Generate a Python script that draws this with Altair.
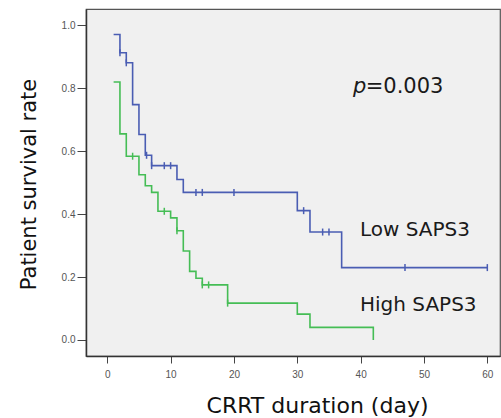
import altair as alt
import pandas as pd

# Kaplan-Meier step curves (time in days, cumulative survival)
low_times = [1, 2, 3, 4, 5, 6, 7, 11, 12, 30, 32, 37, 60]
low_surv = [0.971, 0.913, 0.881, 0.748, 0.653, 0.587, 0.554, 0.510, 0.469, 0.411, 0.343, 0.230, 0.230]
high_times = [1, 2, 3, 5, 6, 7, 8, 10, 11, 12, 13, 14, 15, 19, 30, 32, 42]
high_surv = [0.820, 0.655, 0.584, 0.525, 0.490, 0.469, 0.409, 0.388, 0.347, 0.283, 0.218, 0.196, 0.175, 0.117, 0.082, 0.040, 0.0]

# Censored observations
low_cens_t = [2, 3, 6.2, 7, 9, 10, 14, 15, 20, 31, 34, 35, 47, 60]
low_cens_s = [0.913, 0.881, 0.587, 0.554, 0.554, 0.554, 0.469, 0.469, 0.469, 0.411, 0.343, 0.343, 0.230, 0.230]
high_cens_t = [4, 9, 11, 15, 16, 19]
high_cens_s = [0.584, 0.409, 0.347, 0.175, 0.175, 0.117]

groups = ["Low SAPS3", "High SAPS3"]
colors = ["#4a5db3", "#45bd55"]

# Annotation text
label_text = ["Low SAPS3", "High SAPS3"]
label_x = [39.9, 39.9]
label_y = [0.331, 0.092]
p_x = [38.8, 40.8]
p_y = [0.784, 0.784]
p_text = ["p", "=0.003"]

FONT = "DejaVu Sans"

curves = pd.DataFrame(
    [{"t": t, "s": s, "g": groups[0], "i": i} for i, (t, s) in enumerate(zip(low_times, low_surv))]
    + [{"t": t, "s": s, "g": groups[1], "i": i} for i, (t, s) in enumerate(zip(high_times, high_surv))]
)
cens = pd.DataFrame(
    [{"t": t, "s": s, "g": groups[0]} for t, s in zip(low_cens_t, low_cens_s)]
    + [{"t": t, "s": s, "g": groups[1]} for t, s in zip(high_cens_t, high_cens_s)]
)
labels = pd.DataFrame({"x": label_x, "y": label_y, "txt": label_text})

xs = alt.Scale(domain=[-3.36, 62.0], nice=False, zero=False)
ys = alt.Scale(domain=[-0.051, 1.052], nice=False, zero=False)
cs = alt.Scale(domain=groups, range=colors)

x_axis = alt.Axis(
    values=[0, 10, 20, 30, 40, 50, 60], format="d", grid=False,
    tickSize=7, tickColor="#444", domainColor="#333", domainWidth=1.5,
    labelFont="Liberation Sans", labelFontSize=10, labelColor="#555", labelPadding=6,
    title="CRRT duration (day)", titleFont=FONT, titleFontSize=22,
    titleFontWeight="normal", titleColor="#111", titleX=231, titleY=56,
    titleAlign="center", titleBaseline="alphabetic",
)
y_axis = alt.Axis(
    values=[0, 0.2, 0.4, 0.6, 0.8, 1.0], format=".1f", grid=False,
    tickSize=9, tickColor="#444", domainColor="#333", domainWidth=1.5,
    labelFont="Liberation Sans", labelFontSize=10, labelColor="#555", labelPadding=2,
    title="Patient survival rate", titleFont=FONT, titleFontSize=21,
    titleFontWeight="normal", titleColor="#111", titleX=-51, titleY=175,
    titleAngle=270, titleAlign="center", titleBaseline="alphabetic",
)

lines = alt.Chart(curves).mark_line(interpolate="step-after", strokeWidth=1.6).encode(
    x=alt.X("t:Q", scale=xs, axis=x_axis),
    y=alt.Y("s:Q", scale=ys, axis=y_axis),
    color=alt.Color("g:N", scale=cs, legend=None),
    order="i:Q",
    detail="g:N",
)

ticks = alt.Chart(cens).mark_point(
    shape="M0,-1L0,1", size=49, filled=False, strokeWidth=1.5, opacity=1
).encode(
    x=alt.X("t:Q", scale=xs),
    y=alt.Y("s:Q", scale=ys),
    color=alt.Color("g:N", scale=cs, legend=None),
)

group_labels = alt.Chart(labels).mark_text(
    align="left", baseline="alphabetic", font=FONT, fontSize=20, color="#1a1a1a"
).encode(x=alt.X("x:Q", scale=xs), y=alt.Y("y:Q", scale=ys), text="txt:N")

pval = pd.DataFrame({"x": p_x, "y": p_y, "txt": p_text})
p_italic = alt.Chart(pval.iloc[[0]]).mark_text(
    align="left", baseline="alphabetic", font=FONT, fontSize=21,
    fontStyle="italic", color="#1a1a1a"
).encode(x=alt.X("x:Q", scale=xs), y=alt.Y("y:Q", scale=ys), text="txt:N")
p_rest = alt.Chart(pval.iloc[[1]]).mark_text(
    align="left", baseline="alphabetic", font=FONT, fontSize=21, color="#1a1a1a"
).encode(x=alt.X("x:Q", scale=xs), y=alt.Y("y:Q", scale=ys), text="txt:N")

chart = alt.layer(lines, ticks, group_labels, p_italic, p_rest).properties(
    width=414, height=347,
    autosize=alt.AutoSizeParams(type="none"),
    padding={"left": 86, "top": 9, "right": 1, "bottom": 62},
    background="white",
).configure_view(
    fill="#f0f0f0", stroke="#555", strokeWidth=1.2
)

chart.save("out.html", embed_options={"renderer": "svg", "actions": False})
